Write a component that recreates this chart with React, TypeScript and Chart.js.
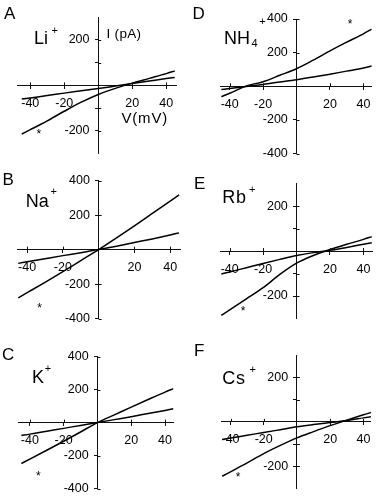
import React, { useEffect, useRef } from "react";
import { Chart, registerables } from "chart.js";

Chart.register(...registerables);

const FONT = '"Liberation Sans", Arial, Helvetica, sans-serif';

// Membrane potential (mV) at which currents were read
const voltages = [-45, -40, -30, -20, -10, 0, 10, 20, 30, 40, 45];

// Currents (pA) – steep trace (*) and shallow trace for each ion
const liSteep = [-214, -195, -156, -114, -74, -40, -13, 10, 31, 52, 64];
const liShallow = [-60, -55, -45, -34, -24, -14, -3, 8, 19, 30, 35];
const naSteep = [-280, -250, -190, -128, -64, 0, 68, 138, 210, 282, 318];
const naShallow = [-80, -71, -53, -35, -18, 0, 20, 41, 62, 85, 97];
const kSteep = [-248, -222, -168, -113, -57, 0, 47, 94, 140, 185, 206];
const kShallow = [-78, -70, -52, -35, -17, 0, 18, 36, 55, 74, 84];
const nh4Steep = [-62, -42, 2, 27, 65, 104, 155, 210, 262, 312, 340];
const nh4Shallow = [-20, -14, -1, 11, 25, 39, 55, 72, 90, 108, 120];
const rbSteep = [-286, -262, -213, -163, -104, -54, -20, 7, 30, 52, 64];
const rbShallow = [-102, -93, -74, -55, -37, -20, -7, 3, 16, 30, 37];
const csSteep = [-245, -225, -185, -143, -106, -72, -44, -17, 8, 32, 43];
const csShallow = [-79, -73, -60, -48, -35, -22, -12, -3, 6, 18, 24];

// Asterisk marker positions [mV, pA]
const starLi = [-35, -200];
const starNa = [-33, -324];
const starK = [-35, -308];
const starNH4 = [32, 388];
const starRb = [-32, -255];
const starCs = [-35.5, -237];

// Axis ticks
const xTickValues = [-40, -20, 20, 40];
const yTicks300 = [-200, -100, 100, 200];
const yLabels300 = [-200, 200];
const yTicks400 = [-400, -200, 200, 400];
const yLabels400 = [-400, -200, 200, 400];

type PanelDef = {
  key: string;
  left: number;
  top: number;
  w: number;
  h: number;
  area: number[];
  xRange: number[];
  yRange: number[];
  yTicks: number[];
  yLabels: number[];
  series: number[][];
  star: number[];
};

const panels: PanelDef[] = [
  { key: "A", left: 0, top: 0, w: 189, h: 165, area: [17.5, 17.3, 176.5, 155], xRange: [-47.5, 46], yRange: [-300, 300], yTicks: yTicks300, yLabels: yLabels300, series: [liSteep, liShallow], star: starLi },
  { key: "D", left: 189, top: 0, w: 189, h: 165, area: [31.5, 19, 186.3, 156], xRange: [-45.5, 45], yRange: [-400, 400], yTicks: yTicks400, yLabels: yLabels400, series: [nh4Steep, nh4Shallow], star: starNH4 },
  { key: "B", left: 0, top: 165, w: 189, h: 165, area: [17.3, 15.7, 180, 155.7], xRange: [-45.5, 45.5], yRange: [-400, 400], yTicks: yTicks400, yLabels: yLabels400, series: [naSteep, naShallow], star: starNa },
  { key: "E", left: 189, top: 165, w: 189, h: 165, area: [31.8, 18.6, 186.8, 156], xRange: [-45.3, 45.3], yRange: [-300, 300], yTicks: yTicks300, yLabels: yLabels300, series: [rbSteep, rbShallow], star: starRb },
  { key: "C", left: 0, top: 330, w: 189, h: 170, area: [18, 26.7, 173.5, 162.7], xRange: [-47, 45], yRange: [-400, 400], yTicks: yTicks400, yLabels: yLabels400, series: [kSteep, kShallow], star: starK },
  { key: "F", left: 189, top: 330, w: 189, h: 170, area: [32.7, 25.25, 186, 164.75], xRange: [-45.3, 44.5], yRange: [-300, 300], yTicks: yTicks300, yLabels: yLabels300, series: [csSteep, csShallow], star: starCs },
];

type TextDef = { text: string; left: number; top: number; size: number; spacing?: number };

const texts: TextDef[] = [
  { text: "A", left: 4, top: 5.1, size: 17 },
  { text: "D", left: 192.5, top: 5.1, size: 17 },
  { text: "B", left: 2.5, top: 171.1, size: 17 },
  { text: "E", left: 194, top: 174.5, size: 17 },
  { text: "C", left: 2, top: 346.1, size: 17 },
  { text: "F", left: 194, top: 341.8, size: 17 },
  { text: "Li", left: 34, top: 29.2, size: 18 },
  { text: "+", left: 51.5, top: 25.1, size: 11 },
  { text: "Na", left: 25.7, top: 191.8, size: 18 },
  { text: "+", left: 50.5, top: 185.6, size: 11 },
  { text: "K", left: 32, top: 367.5, size: 18 },
  { text: "+", left: 44.8, top: 363.1, size: 11 },
  { text: "NH", left: 224, top: 29.2, size: 18 },
  { text: "4", left: 251.5, top: 37.9, size: 11 },
  { text: "+", left: 259.3, top: 16, size: 11 },
  { text: "Rb", left: 222.3, top: 187.5, size: 18, spacing: 0.8 },
  { text: "+", left: 249, top: 184.3, size: 11 },
  { text: "Cs", left: 222.3, top: 369.2, size: 18, spacing: 0.8 },
  { text: "+", left: 249.5, top: 363.6, size: 11 },
  { text: "I (pA)", left: 106.5, top: 27.4, size: 13.5, spacing: 0.3 },
  { text: "V(mV)", left: 121.5, top: 109.7, size: 15, spacing: 0.8 },
];

const crossTicks = {
  id: "crossTicks",
  afterDraw(chart: any) {
    const { ctx } = chart;
    const xs = chart.scales.x;
    const ys = chart.scales.y;
    const x0 = xs.getPixelForValue(0);
    const y0 = ys.getPixelForValue(0);
    ctx.save();
    ctx.strokeStyle = "#111";
    ctx.lineWidth = 1;
    ctx.beginPath();
    xs.ticks.forEach((t: any) => {
      const px = Math.round(xs.getPixelForValue(t.value)) + 0.5;
      ctx.moveTo(px, y0 - 3);
      ctx.lineTo(px, y0);
    });
    ys.ticks.forEach((t: any) => {
      const py = Math.round(ys.getPixelForValue(t.value)) + 0.5;
      ctx.moveTo(x0, py);
      ctx.lineTo(x0 + 3, py);
    });
    ctx.stroke();
    const star = chart.options.plugins.crossTicks?.star;
    if (star) {
      const sx = xs.getPixelForValue(star[0]);
      const sy = ys.getPixelForValue(star[1]);
      ctx.fillStyle = "#000";
      ctx.font = `12px ${FONT}`;
      ctx.textAlign = "center";
      ctx.textBaseline = "alphabetic";
      ctx.fillText("*", sx, sy + 0.58 * 12);
    }
    ctx.restore();
  },
};

function Panel({ p }: { p: PanelDef }) {
  const ref = useRef<HTMLCanvasElement>(null);
  useEffect(() => {
    if (!ref.current) return;
    const chart = new Chart(ref.current, {
      type: "line",
      data: {
        datasets: p.series.map((s) => ({
          data: voltages.map((v, i) => ({ x: v, y: s[i] })),
          borderColor: "#000",
          borderWidth: 1.5,
          pointRadius: 0,
          fill: false,
          cubicInterpolationMode: "monotone" as const,
        })),
      },
      options: {
        animation: false,
        responsive: false,
        maintainAspectRatio: false,
        devicePixelRatio: 1,
        events: [],
        layout: {
          padding: {
            left: p.area[0],
            top: p.area[1],
            right: p.w - p.area[2],
            bottom: p.h - p.area[3],
          },
        },
        plugins: {
          legend: { display: false },
          tooltip: { enabled: false },
          crossTicks: { star: p.star },
        } as any,
        scales: {
          x: {
            type: "linear",
            position: { y: 0 } as any,
            min: p.xRange[0],
            max: p.xRange[1],
            afterBuildTicks: (scale: any) => {
              scale.ticks = xTickValues.map((v) => ({ value: v }));
            },
            ticks: {
              autoSkip: false,
              maxRotation: 0,
              padding: 7.5,
              color: "#000",
              font: { family: FONT, size: 12.5 },
              callback: (v: any) => (v === 0 ? "" : String(v)),
            },
            grid: { drawOnChartArea: false, drawTicks: true, tickLength: 3, color: "#111", lineWidth: 1 },
            border: { display: true, color: "#111", width: 1 },
          },
          y: {
            type: "linear",
            position: { x: 0 } as any,
            min: p.yRange[0],
            max: p.yRange[1],
            afterBuildTicks: (scale: any) => {
              scale.ticks = p.yTicks.map((v) => ({ value: v }));
            },
            ticks: {
              autoSkip: false,
              padding: 4,
              color: "#000",
              font: { family: FONT, size: 12.5 },
              callback: (v: any) => (p.yLabels.includes(v) ? String(v) + "\u2002\u2009" : ""),
            },
            grid: { drawOnChartArea: false, drawTicks: true, tickLength: 3, color: "#111", lineWidth: 1 },
            border: { display: true, color: "#111", width: 1 },
          },
        },
      },
      plugins: [crossTicks],
    });
    return () => chart.destroy();
  }, [p]);
  return (
    <canvas
      ref={ref}
      width={p.w}
      height={p.h}
      style={{ position: "absolute", left: p.left, top: p.top, width: p.w, height: p.h }}
    />
  );
}

export default function App() {
  return (
    <div
      style={{
        position: "absolute",
        left: 0,
        top: 0,
        width: 378,
        height: 500,
        background: "#fff",
        overflow: "hidden",
        fontFamily: FONT,
        color: "#000",
      }}
    >
      {panels.map((p) => (
        <Panel key={p.key} p={p} />
      ))}
      {texts.map((t, i) => (
        <div
          key={i}
          style={{
            position: "absolute",
            left: t.left,
            top: t.top,
            fontSize: t.size,
            lineHeight: 1,
            whiteSpace: "nowrap",
            letterSpacing: t.spacing ?? 0,
          }}
        >
          {t.text}
        </div>
      ))}
    </div>
  );
}
